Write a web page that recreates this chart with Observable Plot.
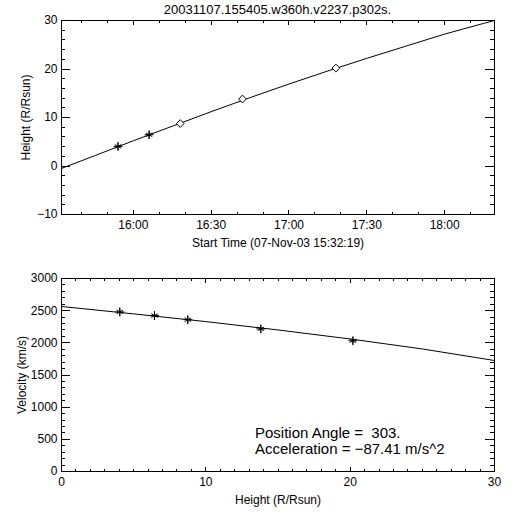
<!DOCTYPE html>
<html><head><meta charset="utf-8">
<script src="https://cdn.jsdelivr.net/npm/d3@7"></script>
<script src="https://cdn.jsdelivr.net/npm/@observablehq/plot@0.6"></script>
<style>
body{margin:0;background:#fff;}
#wrap{position:relative;width:512px;height:512px;overflow:hidden;font-family:"Liberation Sans",Arial,sans-serif;color:#000;background:#fff;}
.txt{position:absolute;white-space:pre;color:#000;line-height:1;}
.panel{position:absolute;left:0;}
</style></head><body><div id="wrap"></div>
<script>
// ---- data ----
const chartTitle = "20031107.155405.w360h.v2237.p302s.";
const eventDate = "2003-11-07";
const timeDomain = ["15:32:19", "18:19:13"];
const timeMajorTicks = ["16:00:00", "16:30:00", "17:00:00", "17:30:00", "18:00:00"];
const timeMinorTicks = ["15:40:00","15:50:00","16:10:00","16:20:00","16:40:00","16:50:00","17:10:00","17:20:00","17:40:00","17:50:00","18:10:00"];
const heightMajorTicks = [-10, 0, 10, 20, 30];
const heightMinorTicks = [-8,-6,-4,-2,2,4,6,8,12,14,16,18,22,24,26,28];
const velMajorTicks = [0, 500, 1000, 1500, 2000, 2500, 3000];
const velMinorTicks = [100,200,300,400,600,700,800,900,1100,1200,1300,1400,1600,1700,1800,1900,2100,2200,2300,2400,2600,2700,2800,2900];
const distMajorTicks = [0, 10, 20, 30];
const distMinorTicks = [1,2,3,4,5,6,7,8,9,11,12,13,14,15,16,17,18,19,21,22,23,24,25,26,27,28,29];

// measured points
const obsTimes   = ["15:54:05", "16:06:05", "16:18:05", "16:42:05", "17:18:05"];
const obsHeights = [4.04, 6.44, 8.75, 13.81, 20.19];
const obsSymbols = ["asterisk", "asterisk", "diamond", "diamond", "diamond"];
const obsVelocities = [2480, 2424, 2360, 2217, 2032];

// fitted curves
const fitTimes   = ["15:32:19","15:45:00","16:00:00","16:15:00","16:30:00","16:45:00","17:00:00","17:15:00","17:30:00","17:45:00","18:00:00","18:15:00","18:19:13"];
const fitHeights = [-0.5, 2.1, 5.2, 8.2, 11.2, 14.1, 16.9, 19.6, 22.2, 24.7, 27.2, 29.4, 30.0];
const velFitHeights = [0, 5, 10, 15, 20, 25, 30];
const velFitValues  = [2565, 2450, 2330, 2200, 2060, 1905, 1725];

const annotLines = ["Position Angle =  303.", "Acceleration = \u221287.41 m/s^2"];
const topXLabel = "Start Time (07-Nov-03 15:32:19)";
const topYLabel = "Height (R/Rsun)";
const botXLabel = "Height (R/Rsun)";
const botYLabel = "Velocity (km/s)";

// ---- helpers ----
const T = s => new Date(`${eventDate}T${s}Z`);
const idx = d3.range(obsTimes.length);
const fitIdx = d3.range(fitTimes.length);
const velIdx = d3.range(velFitHeights.length);
const font = '"Liberation Sans", Arial, sans-serif';
const W = 512, H = 256, ML = 61, MR = 18;
const frameW = W - ML - MR;

// inward-pointing ticks on all four sides (IDL style), drawn with tick marks + insets
function frameTicks(frameH, xMajor, xMinor, yMajor, yMinor) {
  const xs = [[xMajor, 4.5], [xMinor, 2.5]];
  const ys = [[yMajor, 8.7], [yMinor, 4.3]];
  const out = [];
  const st = {stroke: "black", strokeWidth: 1, shapeRendering: "crispEdges"};
  for (const [ticks, L] of xs) {
    out.push(Plot.tickX(ticks, {x: d => d, insetTop: frameH - L, ...st}));
    out.push(Plot.tickX(ticks, {x: d => d, insetBottom: frameH - L, ...st}));
  }
  for (const [ticks, L] of ys) {
    out.push(Plot.tickY(ticks, {y: d => d, insetRight: frameW - L, ...st}));
    out.push(Plot.tickY(ticks, {y: d => d, insetLeft: frameW - L, ...st}));
  }
  return out;
}

const common = {
  width: W, height: H, marginLeft: ML, marginRight: MR,
  style: {fontFamily: font, fontSize: "12px", color: "black", background: "white", overflow: "visible"}
};

// ---- top panel: height vs time ----
const topMT = 20, topMB = 42;
const topChart = Plot.plot({
  ...common,
  marginTop: topMT, marginBottom: topMB,
  x: {type: "utc", domain: [T(timeDomain[0]), T(timeDomain[1])]},
  y: {domain: [-10, 30]},
  marks: [
    Plot.frame({stroke: "black"}),
    Plot.axisX({anchor: "bottom", ticks: timeMajorTicks.map(T), tickFormat: d3.utcFormat("%H:%M"), tickSize: 0, tickPadding: 6,
      label: topXLabel, labelAnchor: "center", labelArrow: "none", labelOffset: 32}),
    Plot.axisY({anchor: "left", ticks: heightMajorTicks, tickSize: 0, tickPadding: 4,
      label: topYLabel, labelAnchor: "center", labelArrow: "none", labelOffset: 40}),
    ...frameTicks(H - topMT - topMB, timeMajorTicks.map(T), timeMinorTicks.map(T), heightMajorTicks, heightMinorTicks),
    Plot.line(fitIdx, {x: i => T(fitTimes[i]), y: i => fitHeights[i], stroke: "black", strokeWidth: 1, clip: true}),
    Plot.dot(idx, {filter: i => obsSymbols[i] === "asterisk", x: i => T(obsTimes[i]), y: i => obsHeights[i], symbol: "asterisk", r: 3.5, stroke: "black", strokeWidth: 1}),
    Plot.dot(idx, {filter: i => obsSymbols[i] === "asterisk", x: i => T(obsTimes[i]), y: i => obsHeights[i], symbol: "plus", r: 3, stroke: "black", strokeWidth: 1}),
    Plot.dot(idx, {filter: i => obsSymbols[i] === "diamond", x: i => T(obsTimes[i]), y: i => obsHeights[i], symbol: "diamond2", r: 3.5, stroke: "black", fill: "white", strokeWidth: 1})
  ]
});

// ---- bottom panel: velocity vs height ----
const botMT = 22, botMB = 41;
const bottomChart = Plot.plot({
  ...common,
  marginTop: botMT, marginBottom: botMB,
  x: {domain: [0, 30]},
  y: {domain: [0, 3000]},
  marks: [
    Plot.frame({stroke: "black"}),
    Plot.axisX({anchor: "bottom", ticks: distMajorTicks, tickFormat: d => String(d), tickSize: 0, tickPadding: 6,
      label: botXLabel, labelAnchor: "center", labelArrow: "none", labelOffset: 32}),
    Plot.axisY({anchor: "left", ticks: velMajorTicks, tickFormat: d => String(d), tickSize: 0, tickPadding: 4,
      label: botYLabel, labelAnchor: "center", labelArrow: "none", labelOffset: 44}),
    ...frameTicks(H - botMT - botMB, distMajorTicks, distMinorTicks, velMajorTicks, velMinorTicks),
    Plot.line(velIdx, {x: i => velFitHeights[i], y: i => velFitValues[i], stroke: "black", strokeWidth: 1}),
    Plot.dot(idx, {x: i => obsHeights[i], y: i => obsVelocities[i], symbol: "asterisk", r: 3.5, stroke: "black", strokeWidth: 1}),
    Plot.dot(idx, {x: i => obsHeights[i], y: i => obsVelocities[i], symbol: "plus", r: 3, stroke: "black", strokeWidth: 1})
  ]
});

const wrap = document.getElementById("wrap");
topChart.classList.add("panel"); topChart.style.top = "0px";
bottomChart.classList.add("panel"); bottomChart.style.top = "256px";
wrap.appendChild(topChart);
wrap.appendChild(bottomChart);

function addText(str, left, topPx, size, center) {
  const d = document.createElement("div");
  d.className = "txt";
  d.textContent = str;
  d.style.fontSize = size + "px";
  d.style.top = topPx + "px";
  d.style.left = left + "px";
  if (center) d.style.transform = "translateX(-50%)";
  wrap.appendChild(d);
}
addText(chartTitle, 277.5, 3, 13, true);
addText(annotLines[0], 255, 425, 15, false);
addText(annotLines[1], 255, 441, 15, false);
</script>
</body></html>
